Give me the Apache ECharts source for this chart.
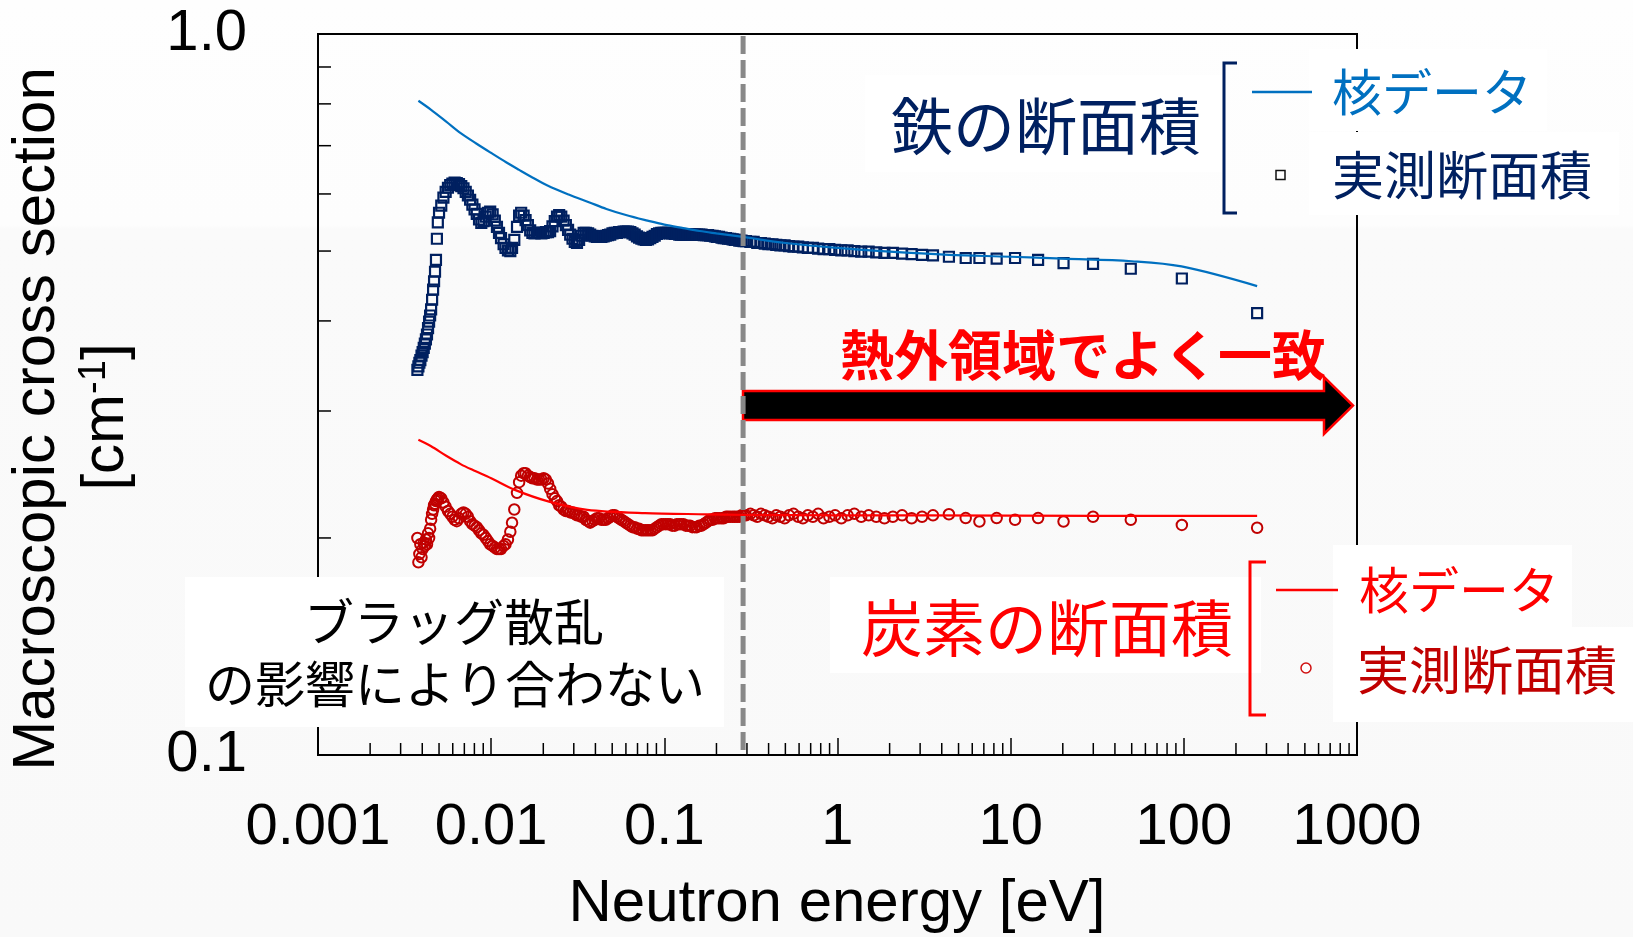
<!DOCTYPE html>
<html><head><meta charset="utf-8">
<script src="https://cdn.jsdelivr.net/npm/echarts@6/dist/echarts.min.js"></script>
<style>html,body{margin:0;padding:0;background:#fff}#c{width:1633px;height:937px}</style>
</head><body><div id="c"></div>
<script>
// ---- data ----
const energy = [
0.00375,0.00380,0.00385,0.00390,0.00396,0.00402,0.00408,0.00414,0.00420,0.00426,
0.00432,0.00438,0.00444,0.00450,0.00456,0.00462,0.00468,0.00474,0.00480,0.00486,
0.00492,
0.00500,0.00515,0.00530,0.00546,0.00563,0.00580,0.00597,0.00615,0.00633,0.00652,
0.00672,0.00692,0.00713,0.00734,0.00756,0.00779,0.00802,0.00826,0.00851,0.00877,
0.00903,0.00930,0.00958,0.00987,0.0102,0.0105,0.0108,0.0111,0.0114,0.0118,
0.0121,0.0125,0.0129,0.0132,0.0136,0.0141,0.0145,0.0149,0.0154,0.0158,
0.0163,0.0168,0.0173,0.0178,0.0184,0.0189,0.0195,0.0201,0.0207,0.0213,
0.0219,0.0226,0.0233,0.0240,0.0247,0.0254,0.0262,0.0270,0.0278,0.0286,
0.0295,0.0304,0.0313,0.0322,0.0332,0.0342,0.0352,0.0363,0.0373,0.0385,
0.0396,0.0408,0.0420,0.0433,0.0446,0.0459,0.0473,0.0487,0.0502,0.0517,
0.0532,0.0548,0.0565,0.0582,0.0599,0.0617,0.0636,0.0655,0.0674,0.0695,
0.0715,0.0737,0.0759,0.0782,0.0805,0.0829,0.0854,0.0880,0.0906,0.0933,
0.0961,0.0990,0.102,0.105,0.108,0.111,0.115,0.118,0.122,0.125,
0.129,0.133,0.137,0.141,0.145,0.150,0.154,0.159,0.164,0.169,
0.174,0.179,0.184,0.190,0.196,0.201,0.207,0.214,0.220,0.227,
0.233,0.240,0.248,0.255,0.263,0.271,0.279,0.287,0.296,
0.314,0.328,0.344,0.361,0.380,0.399,0.421,0.443,0.468,0.495,
0.525,0.557,0.593,0.631,0.674,0.721,0.773,0.831,0.897,0.969,
1.052,1.144,1.251,1.371,1.513,1.674,1.866,2.088,2.36,2.679,
3.078,3.56,4.4,5.5,6.6,8.3,10.6,14.4,20.2,29.9,
49.4,97.4,265];
const feMeasured = [
0.342,0.346,0.350,0.353,0.358,0.362,0.367,0.372,0.377,0.383,
0.391,0.399,0.407,0.415,0.428,0.442,0.454,0.468,0.486,0.520,
0.548,
0.565,0.578,0.593,0.604,0.612,0.617,0.620,0.622,0.621,0.619,
0.615,0.611,0.604,0.597,0.589,0.580,0.571,0.563,0.553,0.547,
0.550,0.558,0.565,0.567,0.562,0.551,0.540,0.530,0.521,0.511,
0.505,0.501,0.500,0.505,0.518,0.540,0.560,0.565,0.560,0.552,
0.543,0.534,0.530,0.529,0.530,0.530,0.529,0.530,0.531,0.531,
0.533,0.541,0.550,0.558,0.561,0.558,0.551,0.543,0.535,0.527,
0.520,0.515,0.513,0.518,0.525,0.530,0.530,0.529,0.527,0.525,
0.524,0.523,0.523,0.523,0.524,0.525,0.526,0.527,0.529,0.530,
0.530,0.531,0.531,0.532,0.532,0.532,0.531,0.529,0.527,0.524,
0.522,0.520,0.519,0.518,0.519,0.521,0.523,0.525,0.528,0.529,
0.530,0.530,0.530,0.530,0.529,0.529,0.528,0.528,0.527,0.527,
0.527,0.527,0.527,0.527,0.527,0.527,0.527,0.527,0.527,0.526,
0.526,0.526,0.525,0.525,0.524,0.523,0.523,0.522,0.521,0.521,
0.520,0.520,0.519,0.518,0.518,0.517,0.517,0.516,0.516,
0.515,0.515,0.513,0.513,0.512,0.511,0.511,0.510,0.509,0.509,
0.508,0.507,0.507,0.506,0.505,0.505,0.504,0.503,0.503,0.502,
0.501,0.501,0.500,0.499,0.499,0.498,0.497,0.497,0.496,0.495,
0.494,0.493,0.491,0.489,0.489,0.488,0.489,0.486,0.481,0.480,
0.4725,0.458,0.410];
const cMeasured = [
0.200,0.185,0.190,0.196,0.188,0.193,0.197,0.195,0.199,0.196,
0.203,0.200,0.206,0.212,0.216,0.219,0.222,0.223,0.225,0.226,
0.227,
0.228,0.227,0.224,0.221,0.218,0.216,0.214,0.212,0.211,0.213,
0.216,0.217,0.216,0.214,0.211,0.209,0.208,0.207,0.205,0.203,
0.202,0.200,0.198,0.196,0.195,0.194,0.193,0.193,0.193,0.195,
0.196,0.199,0.204,0.210,0.219,0.231,0.239,0.244,0.246,0.246,
0.244,0.243,0.242,0.242,0.241,0.241,0.241,0.242,0.241,0.238,
0.234,0.230,0.227,0.225,0.222,0.221,0.219,0.218,0.218,0.217,
0.217,0.216,0.215,0.215,0.214,0.214,0.212,0.211,0.210,0.211,
0.212,0.213,0.213,0.212,0.212,0.212,0.213,0.214,0.215,0.215,
0.214,0.213,0.212,0.211,0.210,0.209,0.208,0.207,0.207,0.206,
0.206,0.205,0.205,0.205,0.205,0.205,0.205,0.206,0.207,0.208,
0.209,0.209,0.209,0.209,0.209,0.208,0.208,0.209,0.209,0.209,
0.209,0.208,0.208,0.208,0.207,0.207,0.207,0.208,0.208,0.209,
0.210,0.211,0.212,0.212,0.213,0.213,0.213,0.213,0.213,0.214,
0.214,0.214,0.214,0.214,0.214,0.214,0.215,0.215,0.215,
0.216,0.215,0.214,0.216,0.215,0.214,0.213,0.215,0.214,0.213,
0.215,0.216,0.214,0.213,0.215,0.214,0.216,0.213,0.214,0.215,
0.213,0.215,0.216,0.214,0.215,0.214,0.213,0.214,0.215,0.213,
0.214,0.215,0.2157,0.2131,0.2108,0.2131,0.212,0.2131,0.2108,0.214,
0.212,0.2085,0.2066];
const feLineE = [0.0038,0.0045,0.0055,0.0067,0.0082,0.01,0.0122,0.0145,0.0168,0.021,0.028,0.037,0.0463,0.06,0.08,0.1,0.1285,0.16,0.2,0.285,0.5,1,2,4.4,10,20,50,97,265];
const feLineS = [0.808,0.785,0.756,0.728,0.705,0.684,0.664,0.648,0.635,0.617,0.599,0.584,0.572,0.561,0.551,0.544,0.538,0.533,0.529,0.523,0.513,0.505,0.499,0.494,0.491,0.488,0.484,0.476,0.447];
const cLineE = [0.0038,0.0045,0.0055,0.0067,0.0078,0.01,0.0137,0.0216,0.0359,0.0774,0.174,0.3,1,10,100,265];
const cLineS = [0.2736,0.268,0.260,0.253,0.2486,0.242,0.2332,0.2246,0.2188,0.2165,0.2157,0.2152,0.215,0.2148,0.2146,0.2146];
const xTickLabels = ['0.001','0.01','0.1','1','10','100','1000'];
const yTickLabels = ['0.1','1.0'];
const xMinorTicks = [0.002,0.003,0.004,0.005,0.006,0.007,0.008,0.009,
0.02,0.03,0.04,0.05,0.06,0.07,0.08,0.09,
0.2,0.3,0.4,0.5,0.6,0.7,0.8,0.9,
2,3,4,5,6,7,8,9,
20,30,40,50,60,70,80,90,
200,300,400,500,600,700,800,900];
const yMinorTicks = [0.2,0.3,0.4,0.5,0.6,0.7,0.8,0.9];
const thermalBoundary = 0.285;

// ---- chart ----
const chart = echarts.init(document.getElementById('c'), null, {renderer:'canvas'});
const LAT = '"Liberation Sans", Arial, sans-serif';
const JP = '"Noto Sans CJK JP", sans-serif';
const NAVY = '#002060', BLUE = '#0070c0', RED = '#ff0000', DRED = '#c00000';

function txt(x, y, text, size, color, align, weight) {
  return {type:'text', x:x, y:y, z:21, silent:true,
    style:{text:text, font:(weight||'normal')+' '+size+'px '+JP, fill:color, align:align||'center', verticalAlign:'middle'}};
}
function box(x, y, w, h) {
  return {type:'rect', z:20, silent:true, shape:{x:x, y:y, width:w, height:h}, style:{fill:'#ffffff'}};
}

const option = {
  animation:false,
  backgroundColor:{type:'linear', x:0, y:0, x2:0, y2:1, colorStops:[
    {offset:0, color:'#fefefe'},{offset:0.24, color:'#fdfdfd'},{offset:0.245, color:'#fafafa'},{offset:1, color:'#f9f9f9'}]},
  grid:{left:318, top:34, width:1039, height:721, show:true, borderColor:'#000', borderWidth:2,
        backgroundColor:'transparent', containLabel:false, outerBoundsMode:'none'},
  xAxis:{type:'log', logBase:10, min:0.001, max:1000,
    axisLine:{show:true, lineStyle:{color:'#000', width:2}},
    axisTick:{show:true, inside:true, length:17, lineStyle:{color:'#000', width:1.5}},
    axisLabel:{show:true, margin:44, fontSize:58, fontFamily:LAT, color:'#000',
      formatter:function(v){return xTickLabels[Math.round(Math.log10(v))+3];}},
    splitLine:{show:false}, minorTick:{show:false}},
  yAxis:{type:'log', logBase:10, min:0.1, max:1,
    axisLine:{show:true, lineStyle:{color:'#000', width:2}},
    axisTick:{show:false},
    axisLabel:{show:true, margin:71, fontSize:58, fontFamily:LAT, color:'#000',
      formatter:function(v){return yTickLabels[Math.round(Math.log10(v))+1];}},
    splitLine:{show:false}},
  series:[
    {type:'custom', name:'xminor', coordinateSystem:'cartesian2d', silent:true, z:5, clip:false,
     data: xMinorTicks.map(v=>[v,0.1]),
     renderItem:function(p, api){const c=api.coord([api.value(0),api.value(1)]);
       return {type:'line', shape:{x1:c[0],y1:c[1],x2:c[0],y2:c[1]-12}, style:{stroke:'#000', lineWidth:1.5}};}},
    {type:'custom', name:'yminor', coordinateSystem:'cartesian2d', silent:true, z:5, clip:false,
     data: yMinorTicks.map(v=>[0.001,v]),
     renderItem:function(p, api){const c=api.coord([api.value(0),api.value(1)]);
       return {type:'line', shape:{x1:c[0],y1:c[1],x2:c[0]+13,y2:c[1]}, style:{stroke:'#000', lineWidth:1.5}};}},
    {type:'scatter', name:'Fe measured', silent:true, z:3,
     data: energy.map((e,i)=>[e, feMeasured[i]]),
     symbol:'rect', symbolSize:10,
     itemStyle:{color:'rgba(255,255,255,0)', borderColor:NAVY, borderWidth:2.2, opacity:1}},
    {type:'scatter', name:'C measured', silent:true, z:3,
     data: energy.map((e,i)=>[e, cMeasured[i]]),
     symbol:'circle', symbolSize:10.5,
     itemStyle:{color:'rgba(255,255,255,0)', borderColor:DRED, borderWidth:2, opacity:1}},
    {type:'line', name:'Fe nuclear data', silent:true, z:4,
     data: feLineE.map((e,i)=>[e, feLineS[i]]), showSymbol:false, smooth:0.35,
     lineStyle:{color:BLUE, width:2.2}},
    {type:'line', name:'C nuclear data', silent:true, z:4,
     data: cLineE.map((e,i)=>[e, cLineS[i]]), showSymbol:false, smooth:0.3,
     lineStyle:{color:RED, width:2.2}},
    {type:'custom', name:'boundary', coordinateSystem:'cartesian2d', silent:true, z:10, clip:false,
     data:[[thermalBoundary, 1]],
     renderItem:function(p, api){const t=api.coord([api.value(0),1]); const b=api.coord([api.value(0),0.1]);
       return {type:'line', shape:{x1:t[0],y1:t[1]+2,x2:b[0],y2:b[1]-2}, style:{stroke:'#888888', lineWidth:5, lineDash:[18,6]}};}}
  ],
  graphic:[
    {type:'text', x:37, y:419, rotation:Math.PI/2, z:21, silent:true,
     style:{text:'Macroscopic cross section', font:'60px '+LAT, fill:'#000', align:'center', verticalAlign:'middle'}},
    {type:'text', x:106, y:417, rotation:Math.PI/2, z:21, silent:true,
     style:{text:'{a|[cm}{b|-1}{a|]}', align:'center', verticalAlign:'middle',
       rich:{a:{fontSize:60, fontFamily:LAT, fill:'#000', color:'#000'},
             b:{fontSize:38, fontFamily:LAT, fill:'#000', color:'#000', verticalAlign:'top'}}}},
    {type:'text', x:837, y:904, z:21, silent:true,
     style:{text:'Neutron energy [eV]', font:'60px '+LAT, fill:'#000', align:'center', verticalAlign:'middle'}},
    {type:'polygon', z:1, silent:true,
     shape:{points:[[743,391],[1324,391],[1324,377],[1353,405.5],[1324,434],[1324,420],[743,420]]},
     style:{fill:'#000', stroke:RED, lineWidth:2.5}},
    txt(1083, 355, '熱外領域でよく一致', 54, RED, 'center', 'bold'),
    box(185, 577, 539, 150),
    txt(454, 622, 'ブラッグ散乱', 50, '#000'),
    txt(455, 684, 'の影響により合わない', 50, '#000'),
    box(865, 75, 357, 97),
    box(1309, 49, 238, 82),
    box(1309, 132, 310, 83),
    txt(1046, 126, '鉄の断面積', 62, NAVY),
    {type:'polyline', z:21, silent:true, shape:{points:[[1237,63],[1224,63],[1224,213],[1237,213]]}, style:{stroke:NAVY, lineWidth:3, fill:null}},
    {type:'line', z:21, silent:true, shape:{x1:1252,y1:92,x2:1312,y2:92}, style:{stroke:BLUE, lineWidth:2.5}},
    txt(1332, 92, '核データ', 50, BLUE, 'left'),
    {type:'rect', z:21, silent:true, shape:{x:1276,y:170.5,width:9,height:9}, style:{fill:'#fff', stroke:'#111', lineWidth:1.5}},
    txt(1332, 175, '実測断面積', 52, NAVY, 'left'),
    box(830, 577, 431, 96),
    box(1333, 545, 239, 82),
    box(1333, 627, 300, 95),
    txt(1047, 628, '炭素の断面積', 62, RED),
    {type:'polyline', z:21, silent:true, shape:{points:[[1266,562],[1250,562],[1250,715],[1266,715]]}, style:{stroke:RED, lineWidth:3, fill:null}},
    {type:'line', z:21, silent:true, shape:{x1:1276,y1:590,x2:1338,y2:590}, style:{stroke:RED, lineWidth:2.5}},
    txt(1359, 590, '核データ', 50, RED, 'left'),
    {type:'circle', z:21, silent:true, shape:{cx:1306,cy:668,r:5}, style:{fill:'#fff', stroke:'#d01010', lineWidth:1.5}},
    txt(1357, 670, '実測断面積', 52, DRED, 'left')
  ]
};
chart.setOption(option);
</script></body></html>
